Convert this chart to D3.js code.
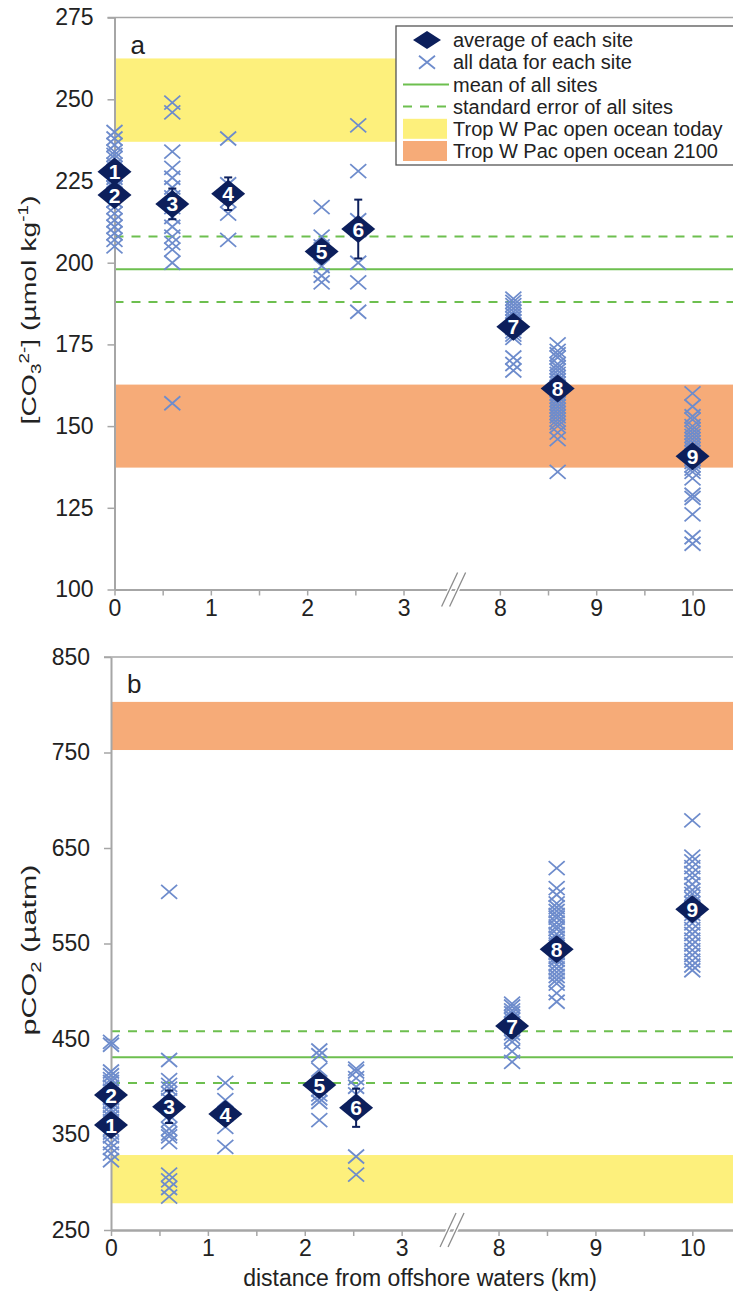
<!DOCTYPE html>
<html>
<head>
<meta charset="utf-8">
<script src="https://cdnjs.cloudflare.com/ajax/libs/d3/7.8.5/d3.min.js"></script>
<style>
  body { margin: 0; background: #fff; }
  svg { display: block; font-family: Arial, "Liberation Sans", sans-serif; }
</style>
</head>
<body>
<div id="chart"></div>
<script>

///////////////////////////////////////////////////////////////////////////
///////////////////////////////// Data ////////////////////////////////////
///////////////////////////////////////////////////////////////////////////
var sites = ["1", "2", "3", "4", "5", "6", "7", "8", "9"]
var siteKm = [0, 0, 0.6, 1.18, 2.15, 2.53, 8.14, 8.6, 10]

// panel a : carbonate ion
var co3Mean = [227.8, 220.7, 218, 221.1, 203.4, 210.3, 180.4, 161.5, 140.8]
var co3Err = [1.5, 1.5, 4.7, 5, 1.5, 9, 1, 1, 1.2]
var co3All = [
  [240, 238, 236, 234, 232, 230, 228, 227, 225, 223, 221, 219],
  [233, 229, 226, 223, 221, 219, 217, 215, 213, 211, 209, 207, 205],
  [249, 246, 234, 229, 226, 223, 220, 217, 214, 211, 208, 206, 204, 200, 157],
  [238, 224, 221, 219, 215, 207],
  [217, 208, 205, 203, 199, 196, 194],
  [242, 228, 213, 210, 200, 194, 185],
  [189, 188, 187, 186, 185, 184, 183, 182, 181, 180, 179, 178, 177, 171, 169, 167],
  [175, 173, 172, 171, 169, 168, 167, 166, 165, 164, 163, 162, 161, 160, 159, 158, 157, 156, 155, 154, 153, 152, 151, 150, 148, 146, 136],
  [160, 156, 153, 152, 150, 149, 148, 147, 146, 145, 144, 143, 142, 141, 140, 139, 138, 137, 136, 134, 129, 128, 123, 116, 114]
]
var co3Lines = [198, 188, 208]          // mean, -se, +se
var co3Today = [237, 262.5]
var co3Y2100 = [137.3, 162.7]
var co3Ticks = [100, 125, 150, 175, 200, 225, 250, 275]

// panel b : pCO2
var pco2Mean = [360, 391.4, 379, 371.5, 401.8, 378, 463.6, 544, 585.8]
var pco2Err = [4, 4, 17, 6, 5, 20, 3, 4, 4]
var pco2All = [
  [376, 372, 368, 364, 360, 356, 352, 348, 341, 336, 330, 323],
  [447, 444, 416, 412, 408, 405, 400, 396, 392, 388, 384, 380],
  [604, 428, 407, 402, 398, 393, 386, 370, 365, 356, 351, 348, 342, 308, 302, 294, 285],
  [404, 386, 371, 358, 337],
  [438, 433, 418, 397, 392, 388, 384, 365],
  [419, 416, 409, 400, 392, 327, 308],
  [487, 484, 480, 477, 473, 470, 466, 462, 456, 452, 447, 437, 426],
  [629, 608, 601, 592, 588, 584, 580, 577, 572, 568, 565, 560, 556, 552, 549, 544, 540, 536, 533, 528, 524, 520, 516, 512, 508, 498, 489],
  [679, 641, 636, 630, 624, 619, 612, 606, 602, 597, 592, 587, 581, 576, 571, 565, 560, 554, 549, 543, 538, 532, 527, 522]
]
var pco2Lines = [431, 404, 458]
var pco2Today = [278, 328.5]
var pco2Y2100 = [752.6, 803]
var pco2Ticks = [250, 350, 450, 550, 650, 750, 850]

var xTickKm = [0, 1, 2, 3, 8, 9, 10]
var xMinorKm = [0.5, 1.5, 2.5, 8.5, 9.5]

var legendLabels = ["average of each site", "all data for each site", "mean of all sites",
  "standard error of all sites", "Trop W Pac open ocean today", "Trop W Pac open ocean 2100"]

///////////////////////////////////////////////////////////////////////////
//////////////////////////////// Globals //////////////////////////////////
///////////////////////////////////////////////////////////////////////////
var W = 733, H = 1293
var AXIS = "#a6a6a6", NAVY = "#0c1f5c", CROSS = "#6e8ccc", GREEN = "#6dbf4f"
var YELLOW = "#fdf07c", ORANGE = "#f6ab78"

var svg = d3.select("#chart").append("svg")
  .attr("width", W)
  .attr("height", H)

// axis break: km beyond 3 are pulled back by 4 so 8 sits next to 3
function axisPos(km) { return km > 5 ? km - 4 : km }

///////////////////////////////////////////////////////////////////////////
///////////////////////////////// Panels //////////////////////////////////
///////////////////////////////////////////////////////////////////////////
drawPanel({
  left: 114.5, top: 17.6, bottom: 589.5, yDomain: [100, 275], ticks: co3Ticks,
  means: co3Mean, errs: co3Err, all: co3All, lines: co3Lines,
  today: co3Today, y2100: co3Y2100, letter: "a", legend: true
})
drawPanel({
  left: 111, top: 657, bottom: 1230, yDomain: [250, 850], ticks: pco2Ticks,
  means: pco2Mean, errs: pco2Err, all: pco2All, lines: pco2Lines,
  today: pco2Today, y2100: pco2Y2100, letter: "b", legend: false
})

// y axis titles
var ta = svg.append("text")
  .attr("transform", "translate(36,310) rotate(-90) scale(1.35,1)")
  .attr("text-anchor", "middle")
  .attr("font-size", 21)
  .attr("fill", "#222")
ta.append("tspan").text("[CO")
ta.append("tspan").attr("font-size", 14).attr("dy", 5).text("3")
ta.append("tspan").attr("font-size", 14).attr("dy", -12).text("2-")
ta.append("tspan").attr("dy", 7).text("] (\u00b5mol kg")
ta.append("tspan").attr("font-size", 14).attr("dy", -8).text("-1")
ta.append("tspan").attr("dy", 8).text(")")

var tb = svg.append("text")
  .attr("transform", "translate(36,950) rotate(-90) scale(1.45,1)")
  .attr("text-anchor", "middle")
  .attr("font-size", 21)
  .attr("fill", "#222")
tb.append("tspan").text("pCO")
tb.append("tspan").attr("font-size", 14).attr("dy", 5).text("2")
tb.append("tspan").attr("dy", -5).text(" (\u00b5atm)")

svg.append("text")
  .attr("x", 420)
  .attr("y", 1286)
  .attr("text-anchor", "middle")
  .attr("font-size", 23)
  .attr("fill", "#222")
  .text("distance from offshore waters (km)")

function drawPanel(c) {
  var right = W
  var x = d3.scaleLinear().domain([0, 6.42]).range([c.left, right])
  var y = d3.scaleLinear().domain(c.yDomain).range([c.bottom, c.top])
  var g = svg.append("g")

  // bands
  g.append("rect")
    .attr("x", c.left).attr("width", right - c.left)
    .attr("y", y(c.today[1])).attr("height", y(c.today[0]) - y(c.today[1]))
    .attr("fill", YELLOW)
  g.append("rect")
    .attr("x", c.left).attr("width", right - c.left)
    .attr("y", y(c.y2100[1])).attr("height", y(c.y2100[0]) - y(c.y2100[1]))
    .attr("fill", ORANGE)

  // mean and standard error lines
  g.selectAll(".ref").data(c.lines).enter().append("line")
    .attr("x1", c.left).attr("x2", right)
    .attr("y1", d => y(d)).attr("y2", d => y(d))
    .attr("stroke", GREEN).attr("stroke-width", 2)
    .attr("stroke-dasharray", (d, i) => i == 0 ? null : "9,8")

  // top frame line
  g.append("line")
    .attr("x1", c.left - 7).attr("x2", right)
    .attr("y1", c.top).attr("y2", c.top)
    .attr("stroke", AXIS).attr("stroke-width", 1.5)

  // axes
  var yAxis = g.append("g")
    .attr("transform", "translate(" + c.left + ",0)")
    .call(d3.axisLeft(y).tickValues(c.ticks).tickSize(7).tickPadding(14).tickSizeOuter(0))
  var xAxis = g.append("g")
    .attr("transform", "translate(0," + c.bottom + ")")
    .call(d3.axisBottom(x).tickValues(xTickKm.map(axisPos)).tickSize(6).tickPadding(4).tickSizeOuter(0)
      .tickFormat((d, i) => xTickKm[i]))
  var xMinor = g.append("g")
    .attr("transform", "translate(0," + c.bottom + ")")
    .call(d3.axisBottom(x).tickValues(xMinorKm.map(axisPos)).tickSize(6).tickFormat("").tickSizeOuter(0))
  ;[yAxis, xAxis, xMinor].forEach(function (a) {
    a.select(".domain").attr("stroke", AXIS).attr("stroke-width", 2)
    a.selectAll(".tick line").attr("stroke", AXIS).attr("stroke-width", 1.5)
    a.selectAll(".tick text").attr("font-size", 23).attr("fill", "#222")
      .attr("font-family", "Arial, 'Liberation Sans', sans-serif")
  })

  // axis break slashes
  var bx = x(3.52), by = c.bottom
  ;[-4, 4].forEach(function (o) {
    g.append("line")
      .attr("x1", bx + o - 7).attr("y1", by + 15)
      .attr("x2", bx + o + 7).attr("y2", by - 15)
      .attr("stroke", "#fff").attr("stroke-width", 4)
  })
  ;[-4, 4].forEach(function (o) {
    g.append("line")
      .attr("x1", bx + o - 8).attr("y1", by + 17)
      .attr("x2", bx + o + 8).attr("y2", by - 17)
      .attr("stroke", "#8c8c8c").attr("stroke-width", 1.3)
  })

  // all data crosses
  var pts = []
  c.all.forEach(function (vals, i) {
    vals.forEach(function (v) { pts.push({ km: siteKm[i], v: v }) })
  })
  g.selectAll(".pt").data(pts).enter().append("path")
    .attr("transform", d => "translate(" + x(axisPos(d.km)) + "," + y(d.v) + ")")
    .attr("d", "M-8,-7L8,7M-8,7L8,-7")
    .attr("stroke", CROSS).attr("stroke-width", 1.8).attr("fill", "none")

  // error bars
  var eb = g.selectAll(".err").data(c.means).enter().append("g")
    .attr("transform", (d, i) => "translate(" + x(axisPos(siteKm[i])) + ",0)")
  eb.append("line")
    .attr("y1", (d, i) => y(d - c.errs[i])).attr("y2", (d, i) => y(d + c.errs[i]))
    .attr("stroke", NAVY).attr("stroke-width", 2)
  eb.append("line").attr("x1", -4).attr("x2", 4)
    .attr("y1", (d, i) => y(d - c.errs[i])).attr("y2", (d, i) => y(d - c.errs[i]))
    .attr("stroke", NAVY).attr("stroke-width", 2)
  eb.append("line").attr("x1", -4).attr("x2", 4)
    .attr("y1", (d, i) => y(d + c.errs[i])).attr("y2", (d, i) => y(d + c.errs[i]))
    .attr("stroke", NAVY).attr("stroke-width", 2)

  // site averages
  var dm = g.selectAll(".avg").data(c.means).enter().append("g")
    .attr("transform", (d, i) => "translate(" + x(axisPos(siteKm[i])) + "," + y(d) + ")")
  dm.append("path")
    .attr("d", "M-17,0L0,-14L17,0L0,14Z")
    .attr("fill", NAVY)
  dm.append("text")
    .attr("text-anchor", "middle")
    .attr("dy", "0.36em")
    .attr("font-size", 21)
    .attr("font-weight", "bold")
    .attr("fill", "#fff")
    .text((d, i) => sites[i])

  // panel letter
  g.append("text")
    .attr("x", c.left + 16).attr("y", c.top + 36)
    .attr("font-size", 26).attr("fill", "#222")
    .text(c.letter)

  if (c.legend) drawLegend(g)
}

///////////////////////////////////////////////////////////////////////////
///////////////////////////////// Legend //////////////////////////////////
///////////////////////////////////////////////////////////////////////////
function drawLegend(g) {
  var lg = g.append("g").attr("transform", "translate(396,26)")
  lg.append("rect")
    .attr("width", 345).attr("height", 139)
    .attr("fill", "#fff").attr("stroke", "#555").attr("stroke-width", 1.3)
  var rowY = d3.scalePoint().domain(d3.range(legendLabels.length)).range([14, 125])
  lg.selectAll(".lt").data(legendLabels).enter().append("text")
    .attr("x", 57).attr("y", (d, i) => rowY(i)).attr("dy", "0.36em")
    .attr("font-size", 20).attr("fill", "#222")
    .text(d => d)
  lg.append("path").attr("transform", "translate(31," + rowY(0) + ")")
    .attr("d", "M-14,0L0,-9L14,0L0,9Z").attr("fill", NAVY)
  lg.append("path").attr("transform", "translate(31," + rowY(1) + ")")
    .attr("d", "M-8,-6.5L8,6.5M-8,6.5L8,-6.5").attr("stroke", CROSS).attr("stroke-width", 1.8)
  lg.append("line").attr("x1", 7).attr("x2", 53).attr("y1", rowY(2)).attr("y2", rowY(2))
    .attr("stroke", GREEN).attr("stroke-width", 2)
  lg.append("line").attr("x1", 7).attr("x2", 53).attr("y1", rowY(3)).attr("y2", rowY(3))
    .attr("stroke", GREEN).attr("stroke-width", 2).attr("stroke-dasharray", "9,8")
  lg.append("rect").attr("x", 7).attr("width", 44).attr("y", rowY(4) - 10).attr("height", 20)
    .attr("fill", YELLOW)
  lg.append("rect").attr("x", 7).attr("width", 44).attr("y", rowY(5) - 10).attr("height", 20)
    .attr("fill", ORANGE)
}

</script>
</body>
</html>
